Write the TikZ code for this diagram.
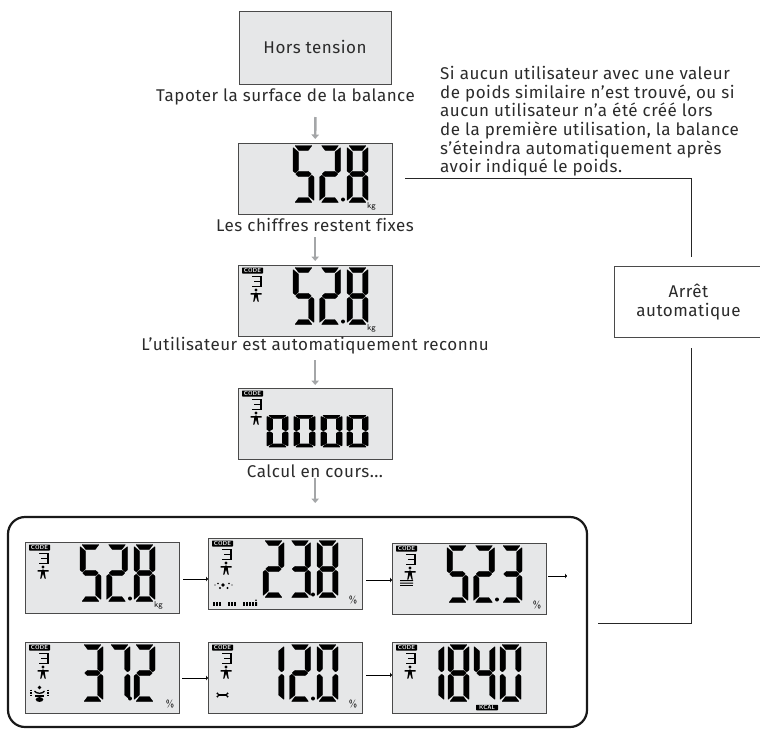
\documentclass[tikz,border=0pt]{standalone}
\usepackage{fontspec}
\setmainfont{Fira Sans}
\usetikzlibrary{arrows.meta}
\definecolor{lcdgrey}{HTML}{E6E7E8}
\definecolor{txt}{HTML}{2B2B2B}
\definecolor{edge}{HTML}{4A4A4A}
\definecolor{arrowgrey}{HTML}{A4A6A8}
\newfontfamily\dinlike[Ligatures=CommonOff,LetterSpace=3]{Fira Sans}
\tikzset{
  x=1pt,y=-1pt,
  lcd/.style={draw=edge,fill=lcdgrey,line width=0.9pt,anchor=north west,inner sep=0pt,minimum width=153.5pt,minimum height=71pt},
  caption/.style={inner sep=0pt,text=txt,font=\dinlike\fontsize{17}{18}\selectfont},
  greyarrow/.style={draw=arrowgrey,line width=2.4pt,-{Triangle[length=4.5pt,width=7.5pt]}},
  thinarrow/.style={draw=black,line width=1pt,-{Triangle[length=2pt,width=4.5pt]}},
  conn/.style={draw=black!85,line width=1pt},
  tag/.style={fill=black,text=lcdgrey,inner sep=0pt,rounded corners=0.6pt,font=\sffamily\bfseries\fontsize{5.8}{5.8}\selectfont},
  unitlabel/.style={inner sep=0pt,text=black,font=\sffamily\fontsize{8.5}{9}\selectfont},
  seg/.style={fill=black,draw=black,line width=0.3pt,rounded corners=0.4pt},
}
\def\sega{(2,0)--(19,0)--(15.3,5)--(5.7,5)--cycle}
\def\segf{(0,2)--(5.5,6.5)--(5.5,24.5)--(2.5,27.5)--(0,25.5)--cycle}
\def\segb{(21,2)--(15.5,6.5)--(15.5,24.5)--(18.5,27.5)--(21,25.5)--cycle}
\def\segg{(2.5,28.5)--(5.5,25.8)--(15.5,25.8)--(18.5,28.5)--(15.5,31.2)--(5.5,31.2)--cycle}
\def\sege{(0,31.5)--(2.5,29.5)--(5.5,32.5)--(5.5,50.5)--(0,55)--cycle}
\def\segc{(21,31.5)--(18.5,29.5)--(15.5,32.5)--(15.5,50.5)--(21,55)--cycle}
\def\segd{(5.7,52)--(15.3,52)--(19,57)--(2,57)--cycle}
\expandafter\def\csname dgt0\endcsname{a,b,c,d,e,f}
\expandafter\def\csname dgt1\endcsname{b,c}
\expandafter\def\csname dgt2\endcsname{a,b,g,e,d}
\expandafter\def\csname dgt3\endcsname{a,b,g,c,d}
\expandafter\def\csname dgt4\endcsname{f,g,b,c}
\expandafter\def\csname dgt5\endcsname{a,f,g,c,d}
\expandafter\def\csname dgt7\endcsname{a,b,c}
\expandafter\def\csname dgt8\endcsname{a,b,c,d,e,f,g}
% x y character yscale
\newcommand{\sevdig}[4]{%
  \begin{scope}[shift={(#1,#2)},yscale=#4]
    \edef\curlist{\csname dgt#3\endcsname}
    \foreach \s in \curlist {\path[seg] \csname seg\s\endcsname;}
  \end{scope}}
% three digits with decimal point, relative to current scope
\newcommand{\reading}[3]{%
  \sevdig{55}{2.5}{#1}{1}\sevdig{81.5}{2.5}{#2}{1}\sevdig{109}{2.5}{#3}{1}
  \fill (105,56.5) circle (2);}
% code tag, small 3 and figure
\newcommand{\userhead}[1]{%
  \node[tag,minimum width=21pt,minimum height=6pt] (#1code) at (14.5,5.5) {CODE};
  \draw[line width=1.5pt] (14,11.5)--(22.8,11.5)--(22.8,21.5)--(14,21.5) (16,16.5)--(22.8,16.5);
  \fill (18,25) circle (1.6);
  \fill (12.5,28)--(23.5,28)--(23.5,29.6)--(19.6,29.6)--(20.8,36.5)--(19.6,36.5)--(18,31.5)--(16.4,36.5)--(15.2,36.5)--(16.4,29.6)--(12.5,29.6)--cycle;
  \fill (18,26.8)--(19.8,31)--(16.2,31)--cycle;}
\newcommand{\kgunit}[1]{\node[unitlabel] (#1) at (133.5,63) {kg};}
\newcommand{\pcunit}[1]{\node[unitlabel,font=\sffamily\fontsize{10}{10}\selectfont] (#1) at (145,62.5) {\%};}
\begin{document}
\begin{tikzpicture}
\useasboundingbox (0,0) rectangle (760,729);
% top box
\node[lcd,minimum width=152pt,minimum height=73pt] (off) at (239,11) {};
\node[caption] (offt) at (315,47) {Hors tension};
\node[caption] (cap1) at (285.5,97) {Tapoter la surface de la balance};
% box 2
\node[lcd] (b2) at (238,143) {};
\begin{scope}[shift={(b2.north west)}]\reading528\kgunit{u2}\end{scope}
\node[caption] (cap2) at (315,225) {Les chiffres restent fixes};
% box 3
\node[lcd] (b3) at (238,265) {};
\begin{scope}[shift={(b3.north west)}]\reading528\kgunit{u3}\userhead{b3}\end{scope}
\node[caption] (cap3) at (315,346) {L’utilisateur est automatiquement reconnu};
% box 4
\node[lcd] (b4) at (238,388) {};
\begin{scope}[shift={(b4.north west)},seg/.append style={line width=0.9pt}]
  \userhead{b4}
  \sevdig{29}{27.5}{0}{0.55}\sevdig{56}{27.5}{0}{0.55}\sevdig{83}{27.5}{0}{0.55}\sevdig{109}{27.5}{0}{0.55}
\end{scope}
\node[caption] (cap4) at (315,471) {Calcul en cours...};
% frame
\node[draw=black!90,line width=2.2pt,rounded corners=17pt,minimum width=579pt,minimum height=210pt,inner sep=0pt] (frame) at (297.5,622) {};
% row 1
\node[lcd] (r1a) at (25,542) {};
\begin{scope}[shift={(r1a.north west)}]\reading528\kgunit{u4}\userhead{r1a}\end{scope}
\node[lcd] (r1b) at (208,538) {};
\begin{scope}[shift={(r1b.north west)}]
  \reading238\pcunit{u5}\userhead{r1b}
  \fill (15,47) circle (1.8) (10,45.5) circle (0.9) (21,45.5) circle (0.9) (12,50) circle (1.2) (19.5,50) circle (1.2) (7,47) circle (.6) (24,47) circle (.6);
  \foreach \bx in {5,8,11,20,23,26,35,38,41,44} {\fill (\bx,64) rectangle ++(2,3.8);}
  \fill (47,64) rectangle ++(2,3.8) (48,62.3) circle (0.9);
\end{scope}
\node[lcd] (r1c) at (392,543) {};
\begin{scope}[shift={(r1c.north west)}]
  \reading523\pcunit{u6}\userhead{r1c}
  \foreach \wy in {37.5,40,42.5} {\draw[line width=1pt] (8,\wy) .. controls (11,\wy-1) and (13,\wy+1) .. (15,\wy) .. controls (17,\wy-1) and (19,\wy+1) .. (21,\wy);}
\end{scope}
% row 2
\node[lcd] (r2a) at (25,642) {};
\begin{scope}[shift={(r2a.north west)}]
  \sevdig{57}{2.5}{3}{1}\sevdig{84}{2.5}{7}{1}\sevdig{109}{2.5}{2}{1}\fill (105,56.5) circle (2);
  \pcunit{u7}\userhead{r2a}
  \fill (14.5,45.5) circle (1.8);
  \draw[line width=1.3pt] (9.5,49) .. controls (11,52) and (18,52) .. (19.5,49);
  \fill (14.5,57.5) ellipse (3.8 and 2.4);
  \draw[line width=1.2pt,dash pattern=on 1.5pt off 1pt] (6,47.5) -- (6,55) (23,47.5) -- (23,55);
  \draw[line width=1.2pt] (10,54) -- (19,54);
\end{scope}
\node[lcd] (r2b) at (208,642) {};
\begin{scope}[shift={(r2b.north west)}]
  \sevdig{55}{2.5}{1}{1}\sevdig{81.5}{2.5}{2}{1}\sevdig{109}{2.5}{0}{1}\fill (105,56.5) circle (2);
  \pcunit{u8}\userhead{r2b}
  \draw[line width=1.4pt] (10,53) -- (19,53);
  \fill (9.5,51.5) circle (1.2) (9.5,54.5) circle (1.2) (19.5,51.5) circle (1.2) (19.5,54.5) circle (1.2);
\end{scope}
\node[lcd] (r2c) at (392,642) {};
\begin{scope}[shift={(r2c.north west)}]
  \userhead{r2c}
  \sevdig{31}{2.5}{1}{1}\sevdig{56}{2.5}{8}{1}\sevdig{82}{2.5}{4}{1}\sevdig{108}{2.5}{0}{1}
  \node[tag,minimum width=22pt,minimum height=5.5pt] (kcal) at (95,65.5) {KCAL};
\end{scope}
% paragraph
\node[anchor=north west,inner sep=0pt,text=txt,align=left,font=\dinlike\fontsize{17}{18.7}\selectfont] (para) at (440,66) {Si aucun utilisateur avec une valeur\\de poids similaire n’est trouvé, ou si\\aucun utilisateur n’a été créé lors\\de la première utilisation, la balance\\s’éteindra automatiquement après\\avoir indiqué le poids.};
% auto-off box
\node[draw=edge,line width=0.9pt,fill=white,inner sep=0pt,minimum width=148pt,minimum height=71pt,anchor=north west,align=center,text=txt,font=\dinlike\fontsize{17}{18.7}\selectfont] (auto) at (614,266) {Arrêt\\automatique};
% connectors
\draw[greyarrow] (off.south |- 0,117) -- (b2.north |- 0,139);
\draw[greyarrow] (b2.south |- 0,237) -- (b3.north |- 0,261);
\draw[greyarrow] (b3.south |- 0,360) -- (b4.north |- 0,385);
\draw[greyarrow] (b4.south |- 0,478) -- (b4.south |- 0,503);
\draw[thinarrow] (r1a.east |- 0,579) ++(4,0) -- (r1b.west |- 0,579);
\draw[thinarrow] (r1b.east |- 0,580) ++(4,0) -- (r1c.west |- 0,580);
\coordinate (r1end) at (567,576);
\draw[thinarrow] (r1c.east |- r1end) ++(2,0) -- (r1end);
\draw[thinarrow] (r2a.east |- 0,678) ++(3,0) -- (r2b.west |- 0,678);
\draw[thinarrow] (r2b.east |- 0,675) ++(4,0) -- (r2c.west |- 0,675);
\coordinate (c1) at (405,178);
\coordinate (c2) at (691.5,257);
\coordinate (c3) at (691.5,348);
\coordinate (c4) at (598,623);
\draw[conn] (c1) -| (c2);
\draw[conn] (c3) |- (c4);
\end{tikzpicture}
\end{document}
